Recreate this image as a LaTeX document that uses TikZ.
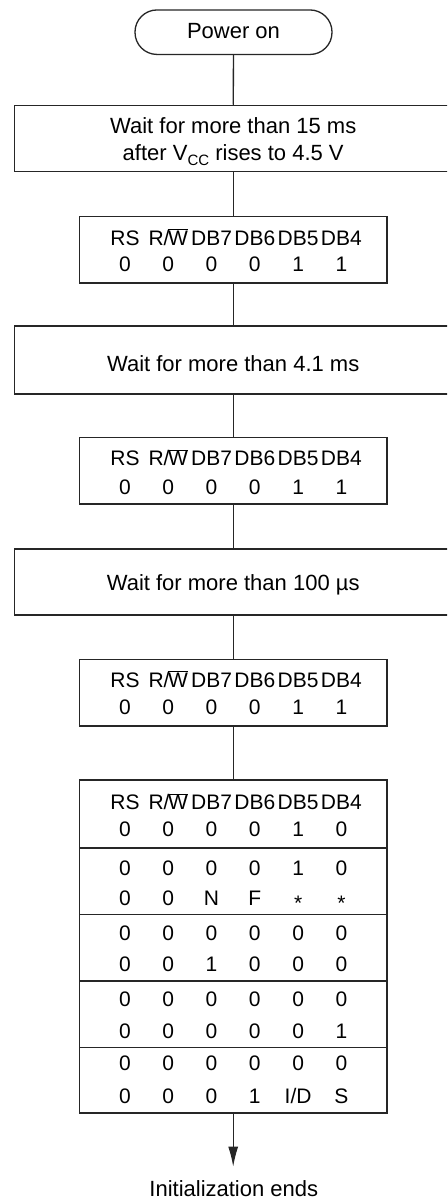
\documentclass[tikz,border=0pt]{standalone}
\usepackage{fontspec}
\setmainfont{Liberation Sans}
\usetikzlibrary{arrows.meta}
\newcommand\sixcells[6]{\makebox[43.3pt]{#1}\makebox[43.3pt]{#2}\makebox[43.3pt]{#3}\makebox[43.3pt]{#4}\makebox[43.3pt]{#5}\makebox[43.3pt]{#6}}
\newcommand\rwbar{R/\kern-1.5pt$\overline{\mbox{W}}$}
\newcommand\hdrrow{\sixcells{RS}{\rwbar}{DB7}{DB6}{DB5}{DB4}}
\newcommand\astr{\raisebox{-4.5pt}{*}}
\begin{document}
\begin{tikzpicture}[x=1pt,y=-1pt,
  font=\fontsize{21}{25}\selectfont,
  linecol/.style={draw=black!85},
  wbox/.style={linecol, line width=1.5pt, minimum width=437pt, inner sep=0pt},
  tbox/.style={linecol, line width=1.5pt, minimum width=307.4pt, inner sep=0pt},
  startbox/.style={linecol, line width=1.3pt, rounded corners=22pt, minimum width=197pt, minimum height=44.5pt, inner sep=0pt},
  txt/.style={anchor=base, inner sep=0pt},
  btxt/.style={txt, font=\fontsize{22}{26}\selectfont},
  conn/.style={draw=black!85, line width=1.3pt},
  arr/.style={conn, -{Latex[length=20pt,width=10pt]}}]
\clip (0,0) rectangle (447,1199);
\fill[white] (0,0) rectangle (447,1199);

% start
\node[startbox] (pwr) at (233.5,32.2) {};
\node[btxt] (pwrt) at (233.5,38.3) {Power on};

% wait boxes
\node[wbox, minimum height=66.2pt] (w1) at (233.2,138.6) {};
\node[btxt] (w1a) at (233.2,133.3) {Wait for more than 15 ms};
\node[btxt] (w1b) at (233.2,160.7) {after V\raisebox{-5pt}{\fontsize{15}{15}\selectfont CC} rises to 4.5 V};

\node[tbox, minimum height=66.3pt] (t1) at (233.2,249.8) {};
\node[txt] (t1h) at (233.2,245.3) {\hdrrow};
\node[txt] (t1v) at (233.2,271.2) {\sixcells{0}{0}{0}{0}{1}{1}};

\node[wbox, minimum height=68pt] (w2) at (233.2,360) {};
\node[btxt] (w2t) at (233.2,371.7) {Wait for more than 4.1 ms};

\node[tbox, minimum height=66.7pt] (t2) at (233.2,470.7) {};
\node[txt] (t2h) at (233.2,465.8) {\hdrrow};
\node[txt] (t2v) at (233.2,494.2) {\sixcells{0}{0}{0}{0}{1}{1}};

\node[wbox, minimum height=66pt] (w3) at (233.2,582) {};
\node[btxt] (w3t) at (233.2,590.7) {Wait for more than 100 µs};

\node[tbox, minimum height=66.7pt] (t3) at (233.2,692.7) {};
\node[txt] (t3h) at (233.2,687.5) {\hdrrow};
\node[txt] (t3v) at (233.2,714.2) {\sixcells{0}{0}{0}{0}{1}{1}};

% final table
\node[tbox, minimum height=68pt] (s1) at (233.2,814) {};
\node[tbox, minimum height=66.3pt] (s2) at (233.2,881.15) {};
\node[tbox, minimum height=66.7pt] (s3) at (233.2,947.65) {};
\node[tbox, minimum height=66.3pt] (s4) at (233.2,1014.15) {};
\node[tbox, minimum height=65.7pt] (s5) at (233.2,1080.15) {};

\node[txt] (s1h) at (233.2,809.7) {\hdrrow};
\node[txt] (s1v) at (233.2,836.3) {\sixcells{0}{0}{0}{0}{1}{0}};
\node[txt] (s2a) at (233.2,875.8) {\sixcells{0}{0}{0}{0}{1}{0}};
\node[txt] (s2b) at (233.2,905.8) {\sixcells{0}{0}{N}{F}{\astr}{\astr}};
\node[txt] (s3a) at (233.2,940.2) {\sixcells{0}{0}{0}{0}{0}{0}};
\node[txt] (s3b) at (233.2,971.5) {\sixcells{0}{0}{1}{0}{0}{0}};
\node[txt] (s4a) at (233.2,1006.8) {\sixcells{0}{0}{0}{0}{0}{0}};
\node[txt] (s4b) at (233.2,1038.5) {\sixcells{0}{0}{0}{0}{0}{1}};
\node[txt] (s5a) at (233.2,1070.8) {\sixcells{0}{0}{0}{0}{0}{0}};
\node[txt] (s5b) at (233.2,1103.5) {\sixcells{0}{0}{0}{1}{I/D}{S}};

\coordinate (endpt) at (233.2,1166.7);
\node[btxt] (endt) at (233.8,1196) {Initialization ends};

% connectors
\draw[conn] (pwr) -- (w1);
\draw[conn] (w1) -- (t1);
\draw[conn] (t1) -- (w2);
\draw[conn] (w2) -- (t2);
\draw[conn] (t2) -- (w3);
\draw[conn] (w3) -- (t3);
\draw[conn] (t3) -- (s1);
\draw[arr] (s5.south) -- (endpt);
\end{tikzpicture}
\end{document}
